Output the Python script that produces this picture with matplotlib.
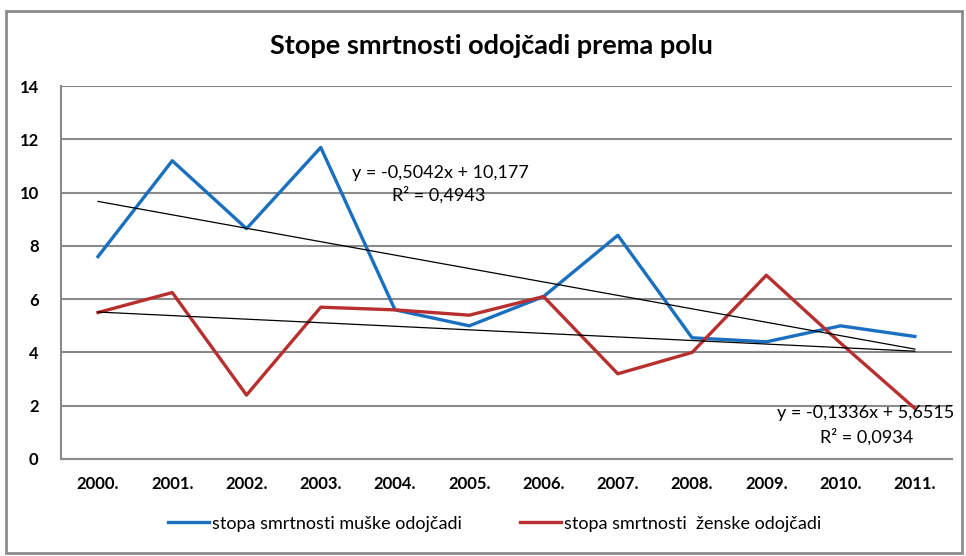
import matplotlib.pyplot as plt
from matplotlib.patches import Rectangle

years = ["2000.", "2001.", "2002.", "2003.", "2004.", "2005.",
         "2006.", "2007.", "2008.", "2009.", "2010.", "2011."]
muske = [7.6, 11.2, 8.65, 11.7, 5.6, 5.0, 6.1, 8.4, 4.55, 4.4, 5.0, 4.6]
zenske = [5.5, 6.25, 2.4, 5.7, 5.6, 5.4, 6.1, 3.2, 4.0, 6.9, 4.35, 1.9]

# trend line coefficients as printed on the chart
trend_muske = (-0.5042, 10.177, 0.4943)
trend_zenske = (-0.1336, 5.6515, 0.0934)

labels = ["stopa smrtnosti muške odojčadi", "stopa smrtnosti  ženske odojčadi"]


def main():
    plt.rcParams['font.family'] = ['Lato', 'DejaVu Sans']
    fig = plt.figure(figsize=(9.66, 5.56), dpi=100)
    fig.patches.append(Rectangle((0.006, 0.006), 0.99, 0.975,
                                 transform=fig.transFigure, fill=False,
                                 edgecolor="#8c8c8c", linewidth=2))
    ax = fig.add_axes([0.063, 0.1745, 0.9225, 0.6705])

    x = list(range(1, len(years) + 1))
    ax.plot(x, muske, color="#1a6fbe", linewidth=2.4, label=labels[0])
    ax.plot(x, zenske, color="#b82f2f", linewidth=2.4, label=labels[1])

    for a, b, _ in (trend_muske, trend_zenske):
        ax.plot([x[0], x[-1]], [a * x[0] + b, a * x[-1] + b],
                color="black", linewidth=0.9)

    ax.set_xlim(0.5, len(years) + 0.5)
    ax.set_ylim(0, 14)
    ax.set_yticks(range(0, 15, 2))
    ax.set_xticks(x)
    ax.set_xticklabels(years)
    ax.yaxis.grid(True, color="#8a8a8a", linewidth=1.5)
    ax.set_axisbelow(True)
    for s in ("top", "right"):
        ax.spines[s].set_visible(False)
    for s in ("left", "bottom"):
        ax.spines[s].set_color("#8a8a8a")
        ax.spines[s].set_linewidth(1.5)
    ax.tick_params(length=0, labelsize=12, pad=12)
    for t in ax.get_xticklabels() + ax.get_yticklabels():
        t.set_fontweight("bold")
    ax.tick_params(axis="y", pad=16)

    ax.text(4.42, 10.55, "y = -0,5042x + 10,177", fontsize=13)
    ax.text(4.96, 9.7, "R² = 0,4943", fontsize=13)
    ax.text(10.15, 1.55, "y = -0,1336x + 5,6515", fontsize=13)
    ax.text(10.72, 0.6, "R² = 0,0934", fontsize=13)

    fig.text(0.509, 0.918, "Stope smrtnosti odojčadi prema polu",
             ha="center", va="center", fontsize=19.5, fontweight="bold")

    fig.legend(loc="center", bbox_to_anchor=(0.512, 0.058), ncol=2,
               frameon=False, fontsize=13, handlelength=2.3,
               columnspacing=3.2, handletextpad=0.15)

    fig.savefig("out.png")


if __name__ == "__main__":
    main()
